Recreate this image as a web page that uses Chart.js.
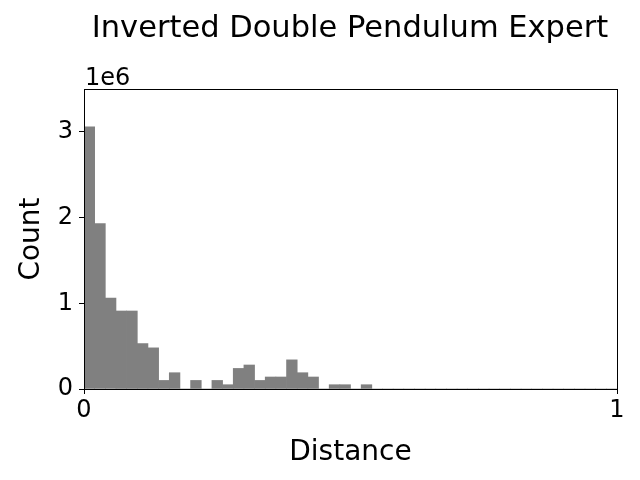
<!DOCTYPE html>
<html lang="en">
<head>
    <meta charset="UTF-8">
    <title>Inverted Double Pendulum Expert</title>
    <script src="https://cdn.jsdelivr.net/npm/chart.js"></script>
    <style>
        body { margin: 0; background: #ffffff; }
        #chart { display: block; }
    </style>
</head>
<body>
    <canvas id="chart" width="640" height="480"></canvas>
    <script>
        // histogram of distances, 50 bins of width 0.02 over [0, 1]
        const binWidth = 0.02;
        const counts = [
            3060000, 1930000, 1060000, 910000, 910000, 530000, 480000, 100000, 190000, 0,
            100000, 0, 100000, 50000, 240000, 280000, 100000, 140000, 140000, 340000,
            190000, 140000, 0, 50000, 50000, 0, 50000, 0, 0, 0,
            0, 0, 0, 0, 0, 0, 0, 0, 0, 0,
            0, 0, 0, 0, 0, 0, 0, 0, 0, 0
        ];
        const xTicks = [0, 1];
        const yTicks = [0, 1, 2, 3];
        const yMax = 3500000;

        const FONT = "'DejaVu Sans', sans-serif";

        const points = counts.map((c, i) => ({ x: (i + 0.5) * binWidth, y: c }));

        const framePlugin = {
            id: 'frame',
            afterDraw(chart) {
                const { ctx, chartArea: a } = chart;
                ctx.save();
                ctx.strokeStyle = '#000';
                ctx.lineWidth = 1;
                ctx.strokeRect(a.left + 0.5, a.top + 0.5, a.right - a.left, a.bottom - a.top);
                ctx.fillStyle = '#000';
                ctx.font = '24px ' + FONT;
                ctx.textAlign = 'left';
                ctx.textBaseline = 'alphabetic';
                ctx.fillText('1e6', a.left + 1, a.top - 4);
                ctx.font = '30.5px ' + FONT;
                ctx.textAlign = 'center';
                ctx.textBaseline = 'middle';
                ctx.fillText('Inverted Double Pendulum Expert', 350, 29);
                ctx.restore();
            }
        };

        window.onload = () => {
            const ctx = document.getElementById('chart').getContext('2d');
            new Chart(ctx, {
                type: 'bar',
                data: {
                    datasets: [{
                        data: points,
                        backgroundColor: '#808080',
                        borderWidth: 0,
                        barPercentage: 1.0,
                        categoryPercentage: 1.0,
                        grouped: false
                    }]
                },
                options: {
                    responsive: false,
                    animation: false,
                    layout: { padding: { top: 89, right: 23, left: 0, bottom: 0 } },
                    plugins: {
                        legend: { display: false },
                        tooltip: { enabled: false }
                    },
                    scales: {
                        x: {
                            type: 'linear',
                            offset: false,
                            min: 0,
                            max: 1,
                            afterBuildTicks: s => { s.ticks = xTicks.map(v => ({ value: v })); },
                            afterFit: s => { s.height = 91; },
                            ticks: { color: '#000', font: { family: FONT, size: 24 }, padding: 2, maxRotation: 0 },
                            grid: { offset: false, drawOnChartArea: false, drawTicks: true, tickLength: 5, color: '#000' },
                            border: { display: true, color: '#000' },
                            title: { display: true, text: 'Distance', color: '#000', font: { family: FONT, size: 28 }, padding: { top: 6, bottom: 10 } }
                        },
                        y: {
                            min: 0,
                            max: yMax,
                            afterBuildTicks: s => { s.ticks = yTicks.map(v => ({ value: v * 1e6 })); },
                            afterFit: s => { s.width = 84; },
                            ticks: { color: '#000', font: { family: FONT, size: 24 }, padding: 6, callback: v => String(v / 1e6) },
                            grid: { drawOnChartArea: false, drawTicks: true, tickLength: 5, color: '#000' },
                            border: { display: true, color: '#000' },
                            title: { display: true, text: 'Count', color: '#000', font: { family: FONT, size: 28 }, padding: { top: 15, bottom: 0 } }
                        }
                    }
                },
                plugins: [framePlugin]
            });
        };
    </script>
</body>
</html>
